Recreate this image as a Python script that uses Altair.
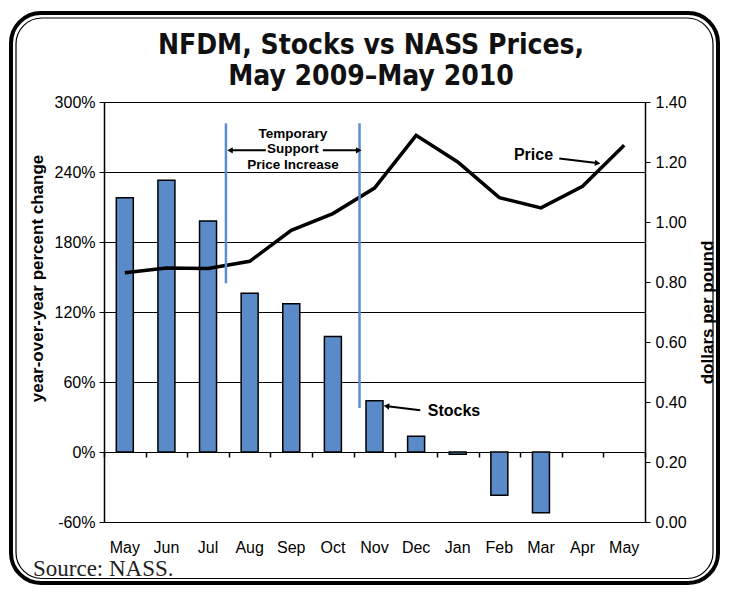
import altair as alt
import pandas as pd

# ---- data ----
month_keys = ["May 2009", "Jun 2009", "Jul 2009", "Aug 2009", "Sep 2009", "Oct 2009",
              "Nov 2009", "Dec 2009", "Jan 2010", "Feb 2010", "Mar 2010", "Apr 2010", "May 2010"]
stocks_pct = [218, 233, 198, 136, 127, 99, 44, 13.5, -2, -37, -52, None, None]
price_usd = [0.831, 0.847, 0.845, 0.869, 0.972, 1.028, 1.113, 1.289, 1.200, 1.081, 1.047, 1.119, 1.256]

pct_ticks = [-60, 0, 60, 120, 180, 240, 300]
usd_ticks = [0.0, 0.2, 0.4, 0.6, 0.8, 1.0, 1.2, 1.4]

# annotation positions in data units (x: month-slot units 0..13, y: percent)
vline_x = [2.93, 6.14]
vline_top = [281.7, 281.7]
vline_bottom = [144.6, 37.7]

arrow_x = [3.89, 5.26, 10.94, 7.60]
arrow_y = [258.6, 258.6, 251.5, 35.8]
arrow_x2 = [3.05, 6.10, 11.84, 6.81]
arrow_y2 = [258.6, 258.6, 247.7, 39.2]
arrow_angle = [270, 90, 96, 277]

label_text = ["Price", "Stocks"]
label_x = [10.32, 8.41]
label_y = [254.3, 35.1]

note_text = ["Temporary", "Support", "Price Increase"]
note_x = [4.54, 4.54, 4.54]
note_y = [273.0, 259.5, 246.0]

title_text = ["NFDM, Stocks vs NASS Prices,\nMay 2009\u2013May 2010"]
source_text = ["Source: NASS."]

BLUE = "#5A8BC8"
LINE_BLUE = "#5B8FD4"
FONT = "Liberation Sans"
TITLE_FONT = "DejaVu Sans Condensed, Liberation Sans"

df = pd.DataFrame({"key": month_keys, "stocks": stocks_pct, "price": price_usd})
vl_df = pd.DataFrame({"x": vline_x, "y": vline_top, "y2": vline_bottom})
ar_df = pd.DataFrame({"x": arrow_x, "y": arrow_y, "x2": arrow_x2, "y2": arrow_y2, "angle": arrow_angle})
lb_df = pd.DataFrame({"x": label_x, "y": label_y, "t": label_text})
nt_df = pd.DataFrame({"x": note_x, "y": note_y, "t": note_text})
src_df = pd.DataFrame({"t": source_text})
ttl_df = pd.DataFrame({"t": title_text})

band = alt.Scale(type="band", domain=month_keys, paddingInner=0, paddingOuter=0)
pct_scale = alt.Scale(domain=[-60, 300], nice=False, zero=False)
xq = alt.Scale(domain=[0, 13], nice=False, zero=False)

# decorative rounded double frame around the figure (plot origin sits at page 104,102)
frame_outer = alt.Chart(src_df).mark_rect(
    cornerRadius=30, fillOpacity=0, stroke="black", strokeWidth=4
).encode(x=alt.value(-93), x2=alt.value(614), y=alt.value(-89), y2=alt.value(481))
frame_inner = alt.Chart(src_df).mark_rect(
    cornerRadius=26, fillOpacity=0, stroke="black", strokeWidth=1.2
).encode(x=alt.value(-88), x2=alt.value(609), y=alt.value(-84), y2=alt.value(476.5))

title = alt.Chart(ttl_df).mark_text(
    font=TITLE_FONT, fontSize=28, fontWeight="bold", color="#111",
    lineBreak="\n", lineHeight=31, align="center", baseline="middle"
).encode(x=alt.value(267), y=alt.value(-56), text="t:N")

bars = alt.Chart(df).mark_bar(width=17, color=BLUE, stroke="black", strokeWidth=1.5).encode(
    x=alt.X("key:N", sort=month_keys, scale=band,
            axis=alt.Axis(orient="bottom", title=None, labelExpr="slice(datum.label, 0, 3)",
                          ticks=False, tickSize=0, domain=False, labelPadding=17, labelFontSize=16,
                          labelAngle=0, labelColor="black", labelFont=FONT)),
    y=alt.Y("stocks:Q", scale=pct_scale,
            axis=alt.Axis(orient="left", values=pct_ticks, labelExpr="datum.value + '%'", grid=True,
                          gridColor="black", gridWidth=1, gridOpacity=1,
                          domainColor="black", domainWidth=1.5, tickColor="black", tickSize=5,
                          labelFontSize=16, labelColor="black", labelFont=FONT, labelPadding=4,
                          title="year-over-year percent change", titleFont=FONT, titleFontSize=17,
                          titleFontWeight="bold", titleColor="black",
                          titleX=-67, titleY=176, titleAngle=270, titleAlign="center",
                          titleBaseline="middle")),
)

zero_ticks = alt.Chart(df).mark_point(opacity=0).encode(
    x=alt.X("key:N", sort=month_keys, scale=band,
            axis=alt.Axis(orient="bottom", title=None, labels=False, ticks=True, tickBand="extent",
                          tickSize=5, tickColor="black", tickWidth=1.5, domain=False, offset=-70,
                          grid=False)),
)

price_line = alt.Chart(df).mark_line(color="black", strokeWidth=3.5).encode(
    x=alt.X("key:N", sort=month_keys, scale=alt.Scale(domain=month_keys), axis=None),
    y=alt.Y("price:Q", scale=alt.Scale(domain=[0, 1.4], nice=False, zero=False),
            axis=alt.Axis(orient="right", values=usd_ticks, format=".2f", grid=False,
                          domainColor="black", domainWidth=1.5, tickColor="black", tickSize=5,
                          labelFontSize=16, labelColor="black", labelFont=FONT, labelPadding=5,
                          title="dollars per pound", titleFont=FONT, titleFontSize=17,
                          titleFontWeight="bold", titleColor="black", titleAngle=270,
                          titleX=62, titleY=210, titleAlign="center", titleBaseline="middle")),
)

vlines = alt.Chart(vl_df).mark_rule(color=LINE_BLUE, strokeWidth=2.5).encode(
    x=alt.X("x:Q", scale=xq, axis=None),
    y=alt.Y("y:Q", scale=pct_scale, axis=None),
    y2="y2:Q",
)

shafts = alt.Chart(ar_df).mark_rule(color="black", strokeWidth=2).encode(
    x=alt.X("x:Q", scale=xq, axis=None),
    x2="x2:Q",
    y=alt.Y("y:Q", scale=pct_scale, axis=None),
    y2="y2:Q",
)

heads = alt.Chart(ar_df).mark_point(shape="triangle", filled=True, color="black", size=40, opacity=1).encode(
    x=alt.X("x2:Q", scale=xq, axis=None),
    y=alt.Y("y2:Q", scale=pct_scale, axis=None),
    angle=alt.Angle("angle:Q", scale=None),
)

labels = alt.Chart(lb_df).mark_text(font=FONT, fontSize=16, fontWeight="bold", color="black").encode(
    x=alt.X("x:Q", scale=xq, axis=None),
    y=alt.Y("y:Q", scale=pct_scale, axis=None),
    text="t:N",
)

notes = alt.Chart(nt_df).mark_text(font=FONT, fontSize=13.5, fontWeight="bold", color="black").encode(
    x=alt.X("x:Q", scale=xq, axis=None),
    y=alt.Y("y:Q", scale=pct_scale, axis=None),
    text="t:N",
)

source = alt.Chart(src_df).mark_text(font="Liberation Serif", fontSize=23, align="left",
                                     baseline="alphabetic", color="#222").encode(
    x=alt.value(-71), y=alt.value(474), text="t:N")

chart = alt.layer(
    frame_outer, frame_inner, title, bars, zero_ticks, price_line, vlines, shafts, heads,
    labels, notes, source
).resolve_scale(x="independent", y="independent").resolve_axis(x="independent", y="independent").properties(
    width=541, height=420,
    autosize=alt.AutoSizeParams(type="none"),
    padding={"left": 96, "top": 94, "right": 76, "bottom": 63},
).configure_view(stroke=None).configure(background="white")

chart.save("out.html", embed_options={"renderer": "svg", "actions": False})
